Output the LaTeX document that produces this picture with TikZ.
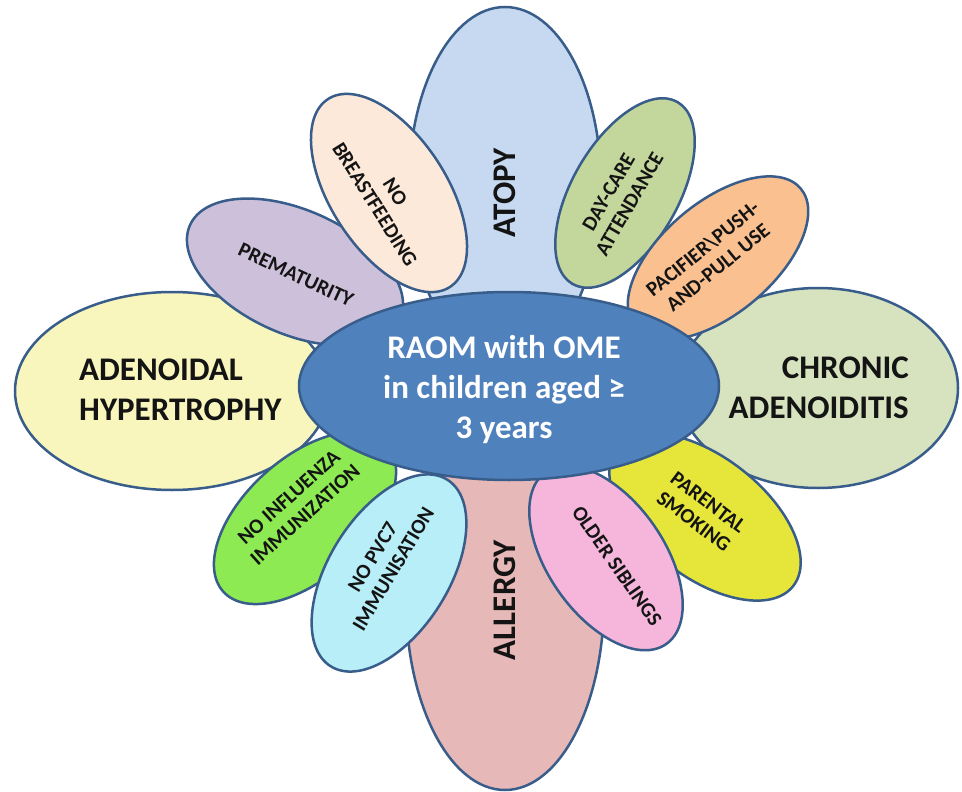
\documentclass[tikz,border=0pt]{standalone}
\usepackage{fontspec}
\setmainfont{Carlito}
\usetikzlibrary{shapes.geometric}
\definecolor{edgec}{HTML}{385D8A}
\definecolor{txtc}{HTML}{141414}
\definecolor{atopyc}{HTML}{C6D9F0}
\definecolor{allergyc}{HTML}{E6B8B7}
\definecolor{adenc}{HTML}{F8F6BD}
\definecolor{chronc}{HTML}{D7E3BF}
\definecolor{centerc}{HTML}{4F81BD}
\definecolor{nbc}{HTML}{FDE9D9}
\definecolor{premc}{HTML}{CCC0DA}
\definecolor{dayc}{HTML}{C3D69B}
\definecolor{pacic}{HTML}{FAC090}
\definecolor{smokc}{HTML}{E6E63A}
\definecolor{sibc}{HTML}{F6B5DB}
\definecolor{fluc}{HTML}{8EEA52}
\definecolor{pvcc}{HTML}{B8EEF7}
\begin{document}
\begin{tikzpicture}[x=1pt,y=-1pt,
  petal/.style={ellipse, draw=edgec, line width=2.5pt, inner sep=0pt, outer sep=0pt},
  bigtxt/.style={font=\fontsize{33}{40}\selectfont\bfseries, text=txtc, inner sep=0pt},
  smalltxt/.style={font=\fontsize{20.8}{24}\selectfont\bfseries, text=txtc, inner sep=0pt, align=center},
  centertxt/.style={font=\fontsize{33}{40}\selectfont\bfseries, text=white, inner sep=0pt, align=center}
]
\useasboundingbox (0,0) rectangle (962,792);
\fill[white] (0,0) rectangle (962,792);

% large petals (back)
\node[petal, fill=adenc, minimum width=314pt, minimum height=198pt] (aden) at (172,391) {};
\node[petal, fill=chronc, minimum width=280pt, minimum height=200pt] (chron) at (818,388) {};
\node[petal, fill=atopyc, minimum width=192pt, minimum height=356pt] (atopy) at (505,185) {};
\node[petal, fill=allergyc, minimum width=198pt, minimum height=380pt] (allergy) at (505,600) {};

% small petals
\node[petal, fill=premc, minimum width=230pt, minimum height=124pt, rotate=-24] (prem) at (295,272) {};
\node[petal, fill=nbc, minimum width=224pt, minimum height=116pt, rotate=-57] (nb) at (389,193) {};
\node[petal, fill=dayc, minimum width=210pt, minimum height=106pt, rotate=60] (day) at (625,193) {};
\node[petal, fill=pacic, minimum width=216pt, minimum height=112pt, rotate=40] (paci) at (718,258) {};
\node[petal, fill=smokc, minimum width=224pt, minimum height=120pt, rotate=-38] (smok) at (705,517) {};
\node[petal, fill=sibc, minimum width=210pt, minimum height=116pt, rotate=-55] (sib) at (606,558) {};
\node[petal, fill=fluc, minimum width=220pt, minimum height=120pt, rotate=42] (flu) at (305,518) {};
\node[petal, fill=pvcc, minimum width=220pt, minimum height=120pt, rotate=58] (pvc) at (389,573) {};

% centre
\node[petal, fill=centerc, minimum width=420pt, minimum height=188pt] (core) at (509,386) {};

% texts
\node[bigtxt, rotate=90] (tatopy) at (505,193) {ATOPY};
\node[bigtxt, rotate=90] (tallergy) at (505,600) {ALLERGY};
\node[bigtxt, align=left, anchor=west] (taden) at (79,390) {ADENOIDAL\\HYPERTROPHY};
\node[bigtxt, align=right, anchor=east] (tchron) at (909,388) {CHRONIC\\ADENOIDITIS};
\node[centertxt] (tcore) at (504,390) {RAOM with OME\\in children aged ≥\\3 years};

\node[smalltxt, rotate=-25] (tprem) at (296,275) {PREMATURITY};
\node[smalltxt, rotate=-58] (tnb) at (385,198) {NO\\BREASTFEEDING};
\node[smalltxt, rotate=60] (tday) at (619,198) {DAY-CARE\\ATTENDANCE};
\node[smalltxt, rotate=39] (tpaci) at (710,258) {PACIFIER\textbackslash PUSH-\\AND-PULL USE};
\node[smalltxt, rotate=-37] (tsmok) at (701,512) {PARENTAL\\SMOKING};
\node[smalltxt, rotate=-55] (tsib) at (617,566) {OLDER SIBLINGS};
\node[smalltxt, rotate=42] (tflu) at (297,506) {NO INFLUENZA\\IMMUNIZATION};
\node[smalltxt, rotate=59] (tpvc) at (383,563) {NO PVC7\\IMMUNISATION};
\end{tikzpicture}
\end{document}
